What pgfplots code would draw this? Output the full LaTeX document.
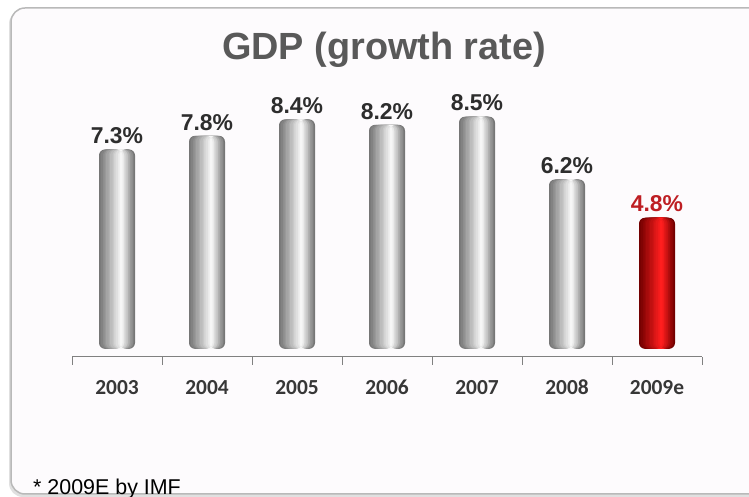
\documentclass[border=0pt]{standalone}
\usepackage{pgfplots}
\pgfplotsset{compat=1.18}
\usepackage{fontspec}
\setmainfont{Liberation Sans}
\newfontfamily\carlito{Carlito}
\definecolor{titlegray}{RGB}{89,89,89}
\definecolor{bordergray}{RGB}{185,185,185}
\definecolor{bgpink}{RGB}{253,251,253}
\definecolor{labelgray}{RGB}{45,45,45}
\definecolor{ticklabelgray}{RGB}{55,55,55}
\definecolor{labelred}{RGB}{190,30,35}
\definecolor{barL}{RGB}{118,118,118}
\definecolor{barM}{RGB}{246,246,246}
\definecolor{redL}{RGB}{115,0,0}
\definecolor{redM}{RGB}{255,30,30}
\pgfplotstableread{
x y
0 7.3
1 7.8
2 8.4
3 8.2
4 8.5
5 6.2
}\graydata
\pgfplotstableread{
x y
6 4.8
}\reddata
\begin{document}
\begin{tikzpicture}
\useasboundingbox (0bp,0bp) rectangle (749bp,497bp);
\begin{scope}
\clip (0bp,0bp) rectangle (749bp,497bp);
\fill[white] (0bp,0bp) rectangle (749bp,497bp);
\fill[black!12, rounded corners=14bp] (9bp,0bp) rectangle (775bp,487bp);
\draw[draw=bordergray, fill=bgpink, line width=1.5bp, rounded corners=14bp] (11bp,3bp) rectangle (775bp,489bp);
\end{scope}
\node[anchor=base, font=\bfseries\fontsize{38}{40}\selectfont, text=titlegray] at (384bp,437bp) {GDP (growth rate)};
\node[anchor=base west, inner sep=0pt, font=\fontsize{21.5}{24}\selectfont, text=black] at (33bp,3bp) {* 2009E by IMF};
\begin{axis}[at={(72bp,140bp)}, anchor=south west, scale only axis,
  width=630bp, height=254bp,
  xmin=-0.5, xmax=6.5, ymin=-0.3, ymax=9,
  axis y line=none, axis x line*=bottom,
  x axis line style={draw=black!50, line width=1bp},
  xtick={0,...,6},
  xticklabels={2003,2004,2005,2006,2007,2008,2009e},
  minor xtick={-0.5,0.5,...,6.5},
  major tick length=0pt, minor tick length=8bp,
  tick align=outside,
  minor tick style={draw=black!50, line width=1bp},
  xticklabel style={font=\carlito\bfseries\fontsize{21.5}{24}\selectfont, text=ticklabelgray,
    anchor=north, text height=14bp, text depth=0bp, yshift=-20bp},
  /pgf/number format/assume math mode=true,
  clip=false]
\addplot[ybar, bar width=36bp, draw=none, fill=barL, rounded corners=6bp,
  nodes near coords={\pgfmathprintnumber[fixed,precision=1,fixed zerofill]{\pgfplotspointmeta}\%},
  nodes near coords style={font=\bfseries\fontsize{23}{25}\selectfont, text=labelgray, yshift=2bp}]
  table[x=x,y=y] {\graydata};
\addplot[ybar, bar width=36bp, draw=none, fill=redL, rounded corners=6bp,
  nodes near coords={\pgfmathprintnumber[fixed,precision=1,fixed zerofill]{\pgfplotspointmeta}\%},
  nodes near coords style={font=\bfseries\fontsize{23}{25}\selectfont, text=labelred, yshift=2bp}]
  table[x=x,y=y] {\reddata};
\pgfplotsinvokeforeach{1,...,11}{
  \addplot[ybar, bar width={\the\numexpr 36-3*#1\relax bp}, bar shift={\the\numexpr (4*#1)/11\relax bp},
    draw=none, fill=barM!\the\numexpr 100*#1/11\relax!barL, rounded corners=6bp]
    table[x=x,y=y] {\graydata};
  \addplot[ybar, bar width={\the\numexpr 36-3*#1\relax bp}, bar shift={\the\numexpr (4*#1)/11\relax bp},
    draw=none, fill=redM!\the\numexpr 100*#1/11\relax!redL, rounded corners=6bp]
    table[x=x,y=y] {\reddata};
}
\end{axis}
\end{tikzpicture}
\end{document}
